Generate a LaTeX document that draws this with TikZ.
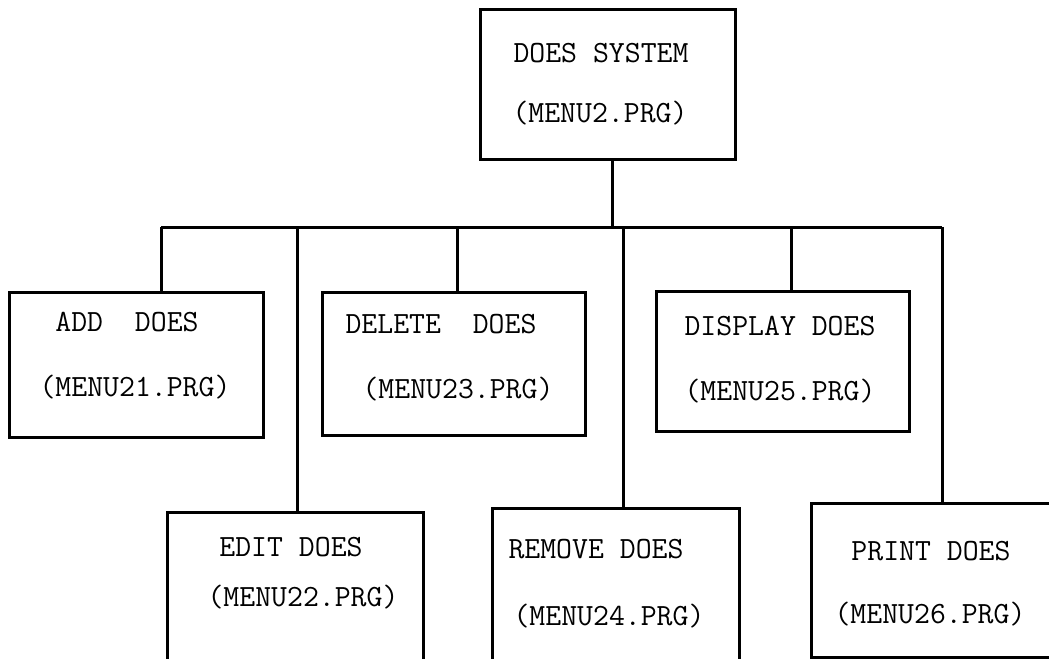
\documentclass[tikz,border=0pt]{standalone}
\usepackage{fontspec}
\tikzset{
  menubox/.style={draw, line width=3bp, minimum width=#1, inner sep=0pt},
  lbl/.style={anchor=base, inner sep=0pt, font=\ttfamily\fontsize{31}{34}\selectfont},
  wire/.style={line width=3bp}
}
\begin{document}
\begin{tikzpicture}[x=1bp,y=-1bp]
\useasboundingbox (0,0) rectangle (1049,659);
\clip (0,0) rectangle (1049,659);
% boxes
\node[menubox=255bp, minimum height=149bp] (top) at (607.5,84.5) {};
\node[menubox=253bp, minimum height=145bp] (add) at (136.5,364.5) {};
\node[menubox=263bp, minimum height=143bp] (del) at (453.5,363.5) {};
\node[menubox=253bp, minimum height=140bp] (disp) at (782.5,361) {};
\node[menubox=256bp, minimum height=188bp] (edit) at (295,606) {};
\node[menubox=247bp, minimum height=192bp] (rem) at (615.5,604) {};
\node[menubox=289bp, minimum height=154bp] (prt) at (955.5,580) {};
% labels
\node[lbl] (t1) at (601,63) {DOES SYSTEM};
\node[lbl] (t2) at (600,123) {(MENU2.PRG)};
\node[lbl] (a1) at (127,331) {ADD\ \ DOES};
\node[lbl] (a2) at (135,396) {(MENU21.PRG)};
\node[lbl] (d1) at (441,333) {DELETE\ \ DOES};
\node[lbl] (d2) at (458,398) {(MENU23.PRG)};
\node[lbl] (s1) at (780,335) {DISPLAY DOES};
\node[lbl] (s2) at (780,400) {(MENU25.PRG)};
\node[lbl] (e1) at (291,556) {EDIT DOES};
\node[lbl] (e2) at (303,606) {(MENU22.PRG)};
\node[lbl] (r1) at (596,558) {REMOVE DOES};
\node[lbl] (r2) at (609,625) {(MENU24.PRG)};
\node[lbl] (p1) at (931,560) {PRINT DOES};
\node[lbl] (p2) at (930,623) {(MENU26.PRG)};
% bus coordinates
\coordinate (j) at (612,227);
\coordinate (cA) at (161,227);
\coordinate (cE) at (297,227);
\coordinate (cD) at (457,227);
\coordinate (cR) at (623,227);
\coordinate (cS) at (791,227);
\coordinate (cP) at (942,227);
% connectors
\draw[wire] (top.south -| j) -- (j);
\draw[wire] (cA) -- (cP);
\draw[wire] (cA) -- (add.north -| cA);
\draw[wire] (cE) -- (edit.north -| cE);
\draw[wire] (cD) -- (del.north -| cD);
\draw[wire] (cR) -- (rem.north -| cR);
\draw[wire] (cS) -- (disp.north -| cS);
\draw[wire] (cP) -- (prt.north -| cP);
\end{tikzpicture}
\end{document}
